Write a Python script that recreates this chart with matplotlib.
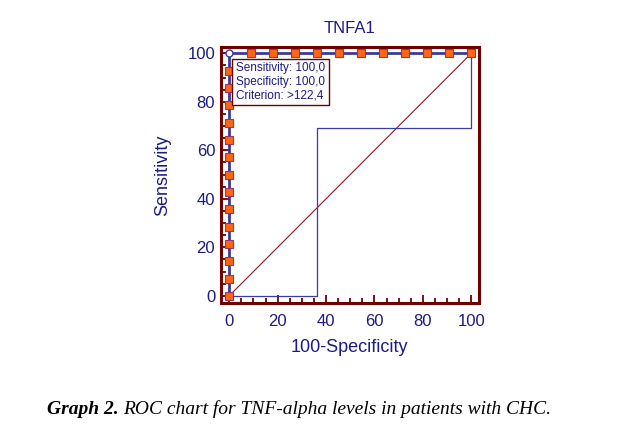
import matplotlib.pyplot as plt
from matplotlib.ticker import MultipleLocator

# ROC points for TNFA1 (100-Specificity, Sensitivity)
roc_x = [0, 0, 100]
roc_y = [0, 100, 100]

# markers along the curve
left_pts_y = [0, 7.14, 14.29, 21.43, 28.57, 35.71, 42.86, 50.0, 57.14,
              64.29, 71.43, 78.57, 85.71, 92.86]
top_pts_x = [9.09, 18.18, 27.27, 36.36, 45.45, 54.55, 63.64, 72.73,
             81.82, 90.91, 100]

# thin stepped line
step_x = [0, 36.4, 36.4, 100, 100]
step_y = [0, 0, 69.2, 69.2, 100]

navy = '#1c1c80'
maroon = '#6e0000'
plt.rcParams['font.family'] = ['Liberation Sans', 'DejaVu Sans']

fig = plt.figure(figsize=(6.2, 4.34), dpi=100)
ax = fig.add_axes([0.356, 0.301, 0.4166, 0.59])

ax.plot([0, 100], [0, 100], color='#8b1a1a', lw=0.8, zorder=2)
ax.plot(step_x, step_y, color='#3a3aa8', lw=0.9, zorder=2)
ax.plot(roc_x, roc_y, color='#3a3a9a', lw=2.0, zorder=3)
ax.plot([0] * len(left_pts_y), left_pts_y, ls='none', marker='s', ms=6,
        mfc='#ff6611', mec='#a0306a', mew=0.8, zorder=4)
ax.plot(top_pts_x, [100] * len(top_pts_x), ls='none', marker='s', ms=6,
        mfc='#ff6611', mec='#a0306a', mew=0.8, zorder=4)
ax.plot([0], [100], ls='none', marker='o', ms=5, mfc='white', mec='#3a3a9a',
        mew=1.0, zorder=5)

ax.text(2.8, 96.3, 'Sensitivity: 100,0\nSpecificity: 100,0\nCriterion: >122,4',
        fontsize=8.5, color=navy, va='top', ha='left', linespacing=1.18, zorder=6,
        bbox=dict(boxstyle='square,pad=0.3', fc='white', ec=maroon, lw=1.0))

ax.set_xlim(-3.5, 103.2)
ax.set_ylim(-3.1, 102.5)
ax.xaxis.set_major_locator(MultipleLocator(20))
ax.xaxis.set_minor_locator(MultipleLocator(5))
ax.yaxis.set_major_locator(MultipleLocator(20))
ax.yaxis.set_minor_locator(MultipleLocator(5))
ax.tick_params(which='both', direction='in', color=maroon, width=1.3,
               top=False, right=False)
ax.tick_params(which='major', length=6)
ax.tick_params(which='minor', length=3.5)
ax.tick_params(axis='x', which='major', labelsize=12, labelcolor=navy, pad=8)
ax.tick_params(axis='y', which='major', labelsize=12, labelcolor=navy, pad=4)
for s in ax.spines.values():
    s.set_color(maroon)
    s.set_linewidth(2.2)

ax.set_title('TNFA1', fontsize=12, color=navy, pad=10)
ax.set_xlabel('100-Specificity', fontsize=13, color=navy, labelpad=7)
ax.set_ylabel('Sensitivity', fontsize=13, color=navy, labelpad=12)

cap_y = 0.046
t1 = fig.text(0.076, cap_y, 'Graph 2.', fontsize=14, family='Liberation Serif',
              style='italic', weight='bold', va='baseline')
fig.canvas.draw()
bb = t1.get_window_extent()
x2 = (bb.x1 + 4) / fig.bbox.width
fig.text(x2, cap_y, 'ROC chart for TNF-alpha levels in patients with CHC.',
         fontsize=14, family='Liberation Serif', style='italic', va='baseline')

fig.savefig('out.png', dpi=100)
